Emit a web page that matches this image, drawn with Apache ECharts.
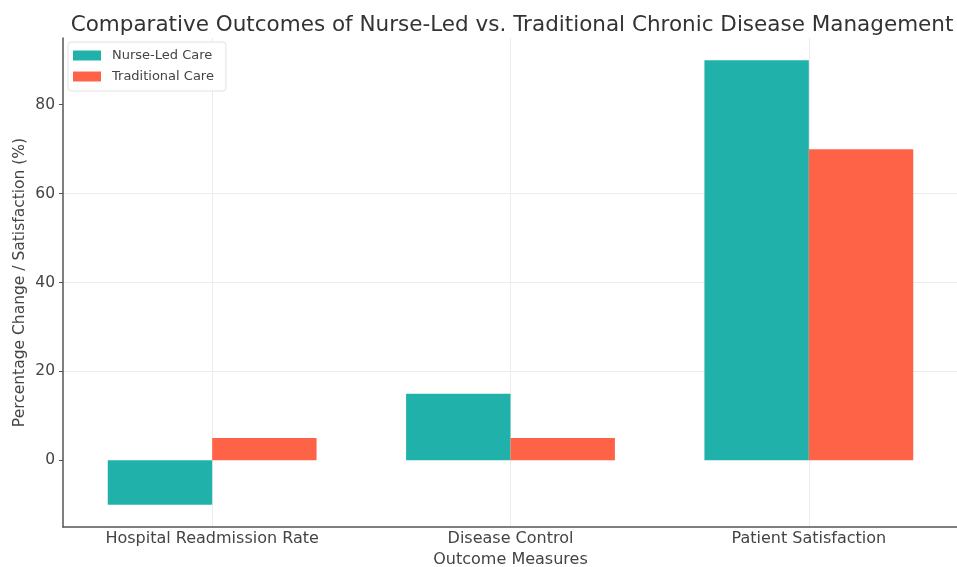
<!DOCTYPE html>
<html>
<head>
<meta charset="utf-8">
<script src="https://cdn.jsdelivr.net/npm/echarts@6/dist/echarts.min.js"></script>
<style>
  html, body { margin: 0; padding: 0; background: #fff; }
  #chart { width: 957px; height: 567px; }
</style>
</head>
<body>
<div id="chart"></div>
<script>
// data
const categories = ['Hospital Readmission Rate', 'Disease Control', 'Patient Satisfaction'];
const nurseLed = [-10, 15, 90];
const traditional = [5, 5, 70];
const yTicks = [0, 20, 40, 60, 80];

const chart = echarts.init(document.getElementById('chart'));
const font = 'DejaVu Sans';

const options = {
  animation: false,
  title: {
    text: 'Comparative Outcomes of Nurse-Led vs. Traditional Chronic Disease Management',
    left: 507,
    textAlign: 'center',
    top: 9,
    textStyle: { fontFamily: font, fontSize: 21.5, fontWeight: 'normal', color: '#333' }
  },
  legend: {
    orient: 'vertical',
    left: 68,
    top: 42,
    padding: [7, 12, 8, 5],
    itemWidth: 28,
    itemHeight: 10,
    itemGap: 8,
    borderColor: '#e2e2e2',
    borderWidth: 1,
    borderRadius: 3,
    backgroundColor: '#fff',
    icon: 'rect',
    textStyle: { fontFamily: font, fontSize: 13, color: '#444', padding: [0, 0, 0, 6] },
    data: ['Nurse-Led Care', 'Traditional Care']
  },
  grid: { left: 63, right: -1, top: 38, bottom: 40, containLabel: false, outerBoundsMode: 'none' },
  xAxis: {
    type: 'category',
    data: categories,
    name: 'Outcome Measures',
    nameLocation: 'middle',
    nameGap: 24,
    nameTextStyle: { fontFamily: font, fontSize: 16, color: '#444' },
    axisLine: { onZero: false, lineStyle: { color: '#555', width: 1.5 } },
    axisTick: { alignWithLabel: true, length: 4, lineStyle: { color: '#555' } },
    axisLabel: { fontFamily: font, fontSize: 16, color: '#444', margin: 4 },
    splitLine: { show: true, alignWithLabel: true, lineStyle: { color: '#ececec' } }
  },
  yAxis: {
    type: 'value',
    min: -15,
    max: 95,
    name: 'Percentage Change / Satisfaction (%)',
    nameLocation: 'middle',
    nameGap: 35,
    nameMoveOverlap: false,
    nameTextStyle: { fontFamily: font, fontSize: 15.5, color: '#444' },
    axisLine: { show: true, lineStyle: { color: '#555', width: 1.5 } },
    axisTick: { show: true, length: 4, customValues: yTicks, lineStyle: { color: '#555' } },
    axisLabel: { fontFamily: font, fontSize: 15.5, color: '#444', margin: 8, customValues: yTicks },
    splitLine: { show: true, showMinLine: false, showMaxLine: false, lineStyle: { color: '#ececec' } }
  },
  series: [
    {
      name: 'Nurse-Led Care',
      type: 'bar',
      data: nurseLed,
      barWidth: '35%',
      barGap: '0%',
      itemStyle: { color: '#20B2AA' }
    },
    {
      name: 'Traditional Care',
      type: 'bar',
      data: traditional,
      barWidth: '35%',
      barGap: '0%',
      itemStyle: { color: '#FF6347' }
    }
  ]
};

chart.setOption(options);
</script>
</body>
</html>
